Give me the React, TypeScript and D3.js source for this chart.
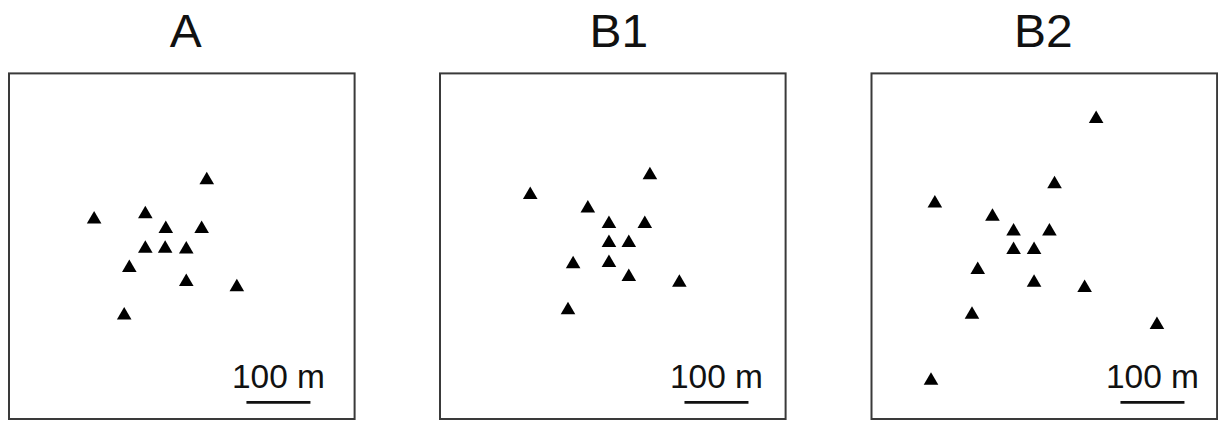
import React from "react";
import * as d3 from "d3";

// Panel titles
const panelNames = ["A", "B1", "B2"];

// Point positions in metres (x to the right, y upward from the lower-left corner of each plot)
const aX = [309, 133, 213, 245, 301, 213, 244, 277, 188, 277, 356, 180];
const aY = [376, 315, 323, 300, 300, 269, 269, 268, 239, 217, 209, 165];

const b1X = [328, 141, 231, 264, 320, 264, 295, 208, 264, 295, 374, 200];
const b1Y = [384, 353, 332, 308, 308, 278, 278, 245, 247, 225, 216, 173];

const b2X = [351, 286, 99, 189, 222, 278, 222, 254, 166, 254, 333, 157, 446, 93];
const b2Y = [472, 370, 340, 319, 296, 296, 267, 267, 236, 216, 208, 166, 150, 63];

// Scale bar start (metres) and length
const scaleStart = [371, 382, 389];
const scaleLength = 100;
const scaleLabel = "100 m";

const W = 1218;
const H = 421;
const plotSize = 345.6; // px
const extent = 540; // metres
const panelLeft = [9, 440, 871.5];
const plotTop = 73.4;
const titleShift = [4, 6, -1];

const seriesX = [aX, b1X, b2X];
const seriesY = [aY, b1Y, b2Y];

function triangle(cx: number, cy: number) {
  const p = d3.path();
  p.moveTo(cx - 7.3, cy + 6);
  p.lineTo(cx + 7.3, cy + 6);
  p.lineTo(cx, cy - 6.5);
  p.closePath();
  return p.toString();
}

export default function App() {
  return (
    <svg
      width={W}
      height={H}
      style={{ position: "absolute", left: 0, top: 0, background: "#fff" }}
      fontFamily="'Liberation Sans', Arial, sans-serif"
    >
      <rect x={0} y={0} width={W} height={H} fill="#fff" />
      {panelNames.map((name, i) => {
        const left = panelLeft[i];
        const x = d3.scaleLinear().domain([0, extent]).range([left, left + plotSize]);
        const y = d3.scaleLinear().domain([0, extent]).range([plotTop + plotSize, plotTop]);
        const xs = seriesX[i];
        const ys = seriesY[i];
        const sb0 = x(scaleStart[i]);
        const sb1 = x(scaleStart[i] + scaleLength);
        const sbY = y(26);
        const cx = left + plotSize / 2 + titleShift[i];
        return (
          <g key={name}>
            <text
              transform={`translate(${cx},47) scale(1.02,1)`}
              textAnchor="middle"
              fontSize={47}
              fill="#111"
            >
              {name}
            </text>
            <rect
              x={left}
              y={plotTop}
              width={plotSize}
              height={plotSize}
              fill="none"
              stroke="#3a3a3a"
              strokeWidth={2}
            />
            {xs.map((v, j) => (
              <path key={j} d={triangle(x(v), y(ys[j]))} fill="#000" />
            ))}
            <line x1={sb0} x2={sb1} y1={sbY} y2={sbY} stroke="#111" strokeWidth={2.8} />
            <text
              transform={`translate(${(sb0 + sb1) / 2},388) scale(1.03,1)`}
              textAnchor="middle"
              fontSize={32.5}
              fill="#111"
            >
              {scaleLabel}
            </text>
          </g>
        );
      })}
    </svg>
  );
}
